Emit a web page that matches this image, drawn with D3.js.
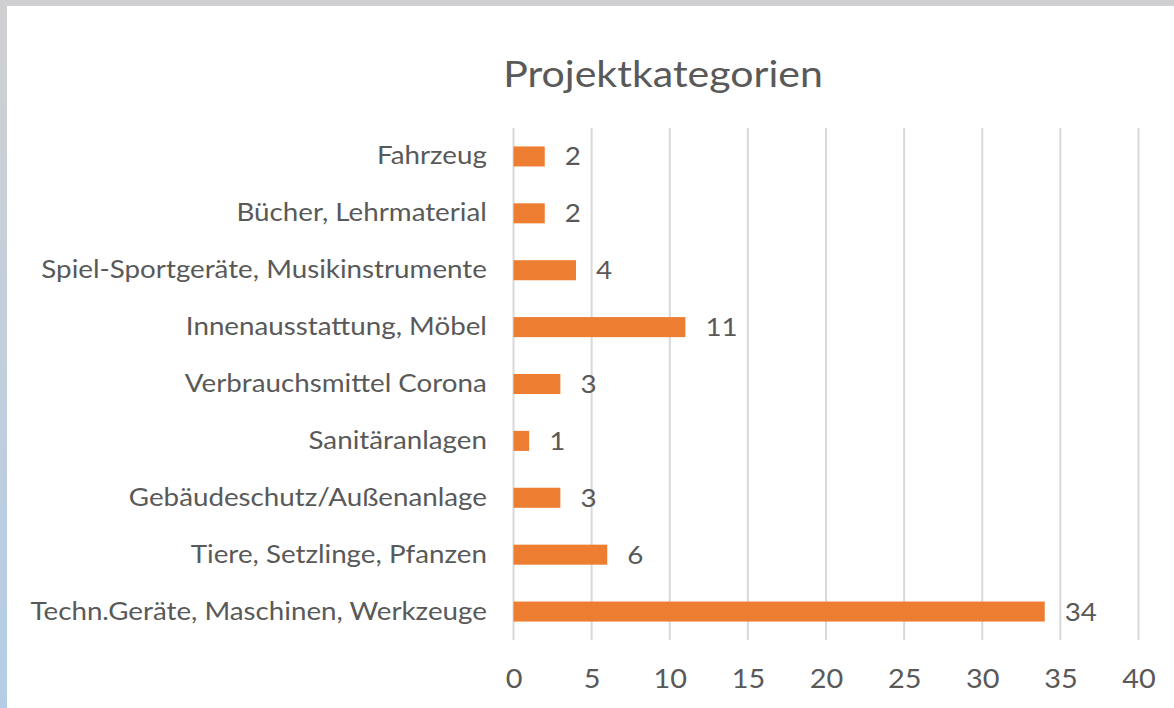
<!DOCTYPE html>
<html>
<head>
<meta charset="utf-8">
<script src="https://cdn.jsdelivr.net/npm/d3@7"></script>
<style>
  body { margin: 0; background: #fff; }
  svg text { font-family: Lato, "Open Sans", sans-serif; fill: #595959; }
</style>
</head>
<body>
<div id="chart"></div>
<script>
// categories top to bottom
const categories = [
    "Fahrzeug",
    "Bücher, Lehrmaterial",
    "Spiel-Sportgeräte, Musikinstrumente",
    "Innenausstattung, Möbel",
    "Verbrauchsmittel Corona",
    "Sanitäranlagen",
    "Gebäudeschutz/Außenanlage",
    "Tiere, Setzlinge, Pfanzen",
    "Techn.Geräte, Maschinen, Werkzeuge"
];
const counts = [2, 2, 4, 11, 3, 1, 3, 6, 34];
const xTicks = [0, 5, 10, 15, 20, 25, 30, 35, 40];
const chartTitle = "Projektkategorien";

const width = 1174, height = 708;
const margin = {top: 128, left: 513.5, right: 35.5, bottom: 68};
// the reference text looks slightly wider than Lato
const stretch = 1.11;

let svg = d3.select("#chart").append("svg")
    .attr("width", width)
    .attr("height", height);

// window frame
svg.append("rect").attr("x", 0).attr("y", 0).attr("width", width).attr("height", 6).attr("fill", "#cfcfd1");
let grad = svg.append("defs").append("linearGradient").attr("id", "sideGrad")
    .attr("x1", 0).attr("y1", 0).attr("x2", 0).attr("y2", 1);
grad.append("stop").attr("offset", "0%").attr("stop-color", "#d0d0d2");
grad.append("stop").attr("offset", "100%").attr("stop-color", "#b4cde6");
svg.append("rect").attr("x", 0).attr("y", 0).attr("width", 7).attr("height", height).attr("fill", "url(#sideGrad)");

let xScale = d3.scaleLinear().domain([0, 40]).range([margin.left, width - margin.right]);
let yScale = d3.scaleBand().domain(categories)
    .range([margin.top, height - margin.bottom]).paddingInner(0.648).paddingOuter(0.324);

// gridlines
svg.append("g").selectAll("line").data(xTicks).enter().append("line")
    .attr("x1", d => xScale(d)).attr("x2", d => xScale(d))
    .attr("y1", margin.top).attr("y2", height - margin.bottom)
    .attr("stroke", "#d9d9d9").attr("stroke-width", 2);

// x axis labels
let xAxis = d3.axisBottom(xScale).tickValues(xTicks).tickSize(0).tickPadding(0);
let xAx = svg.append("g")
    .attr("transform", "translate(0," + (height - margin.bottom) + ")")
    .call(xAxis);
xAx.select(".domain").remove();
xAx.selectAll("text")
    .attr("y", 48).attr("dy", 0)
    .attr("transform", "scale(" + stretch + ",1)")
    .style("font-size", "26px").style("fill", "#595959");

// y axis labels
let yAxis = d3.axisLeft(yScale).tickSize(0).tickPadding(24);
let yAx = svg.append("g")
    .attr("transform", "translate(" + margin.left + ",0)")
    .call(yAxis);
yAx.select(".domain").remove();
yAx.selectAll("text")
    .attr("transform", "scale(" + stretch + ",1)")
    .style("font-size", "25px").style("fill", "#595959");

// bars
svg.append("g").selectAll("rect").data(categories).enter().append("rect")
    .attr("x", xScale(0))
    .attr("y", d => yScale(d))
    .attr("width", (d, i) => xScale(counts[i]) - xScale(0))
    .attr("height", yScale.bandwidth())
    .attr("fill", "#ed7d31");

// value labels
svg.append("g").selectAll("text").data(categories).enter().append("text")
    .attr("transform", (d, i) => "translate(" + (xScale(counts[i]) + 20) + "," +
        (yScale(d) + yScale.bandwidth() / 2) + ") scale(" + stretch + ",1)")
    .attr("dy", "0.36em")
    .style("font-size", "25px")
    .text((d, i) => counts[i]);

// title
svg.append("text")
    .attr("transform", "translate(663,87) scale(" + stretch + ",1)")
    .attr("text-anchor", "middle")
    .style("font-size", "37px")
    .text(chartTitle);
</script>
</body>
</html>
